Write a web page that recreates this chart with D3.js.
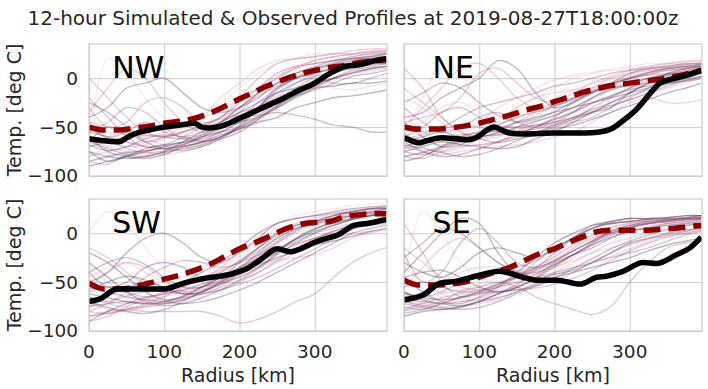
<!DOCTYPE html>
<html>
<head>
<meta charset="utf-8">
<script src="https://cdn.jsdelivr.net/npm/d3@7"></script>
<style>
  body { margin: 0; background: #fff; }
  text { font-family: "DejaVu Sans", sans-serif; fill: #262626; }
</style>
</head>
<body>
<div id="chart-area"></div>
<script>
// Panel names (order: NW, NE, SW, SE)
let panels = ["NW", "NE", "SW", "SE"];

// Tick labels
let xTicks = [0, 100, 200, 300];
let yTicks = [-100, -50, 0];

// Radius grid for ensemble members and for the ensemble mean
let memberX = [0, 25, 50, 75, 100, 125, 150, 175, 200, 225, 250, 275, 300, 325, 350, 375, 395];
let meanX = [0, 20, 40, 60, 80, 100, 120, 140, 160, 180, 200, 220, 240, 260, 280, 300, 320, 340, 360, 380, 395];

// Ensemble mean (dashed red)
let meanNW = [-50, -53, -53, -51, -49, -46, -44, -41, -36, -29, -21, -14, -7, -1, 4, 8, 11, 13, 16, 18, 19];
let meanNE = [-50, -52, -52, -51, -49, -46, -42, -38, -33, -29, -24, -19, -14, -10, -7, -5, -3, -1, 2, 5, 8];
let meanSW = [-51, -57, -57, -55, -51, -47, -43, -38, -32, -24, -16, -10, -3, 4, 9, 11, 12, 17, 19, 20, 20];
let meanSE = [-48, -53, -53, -52, -50, -45, -40, -35, -28, -21, -16, -9, -3, 2, 3, 3, 3, 4, 5, 7, 8];

// Observed profiles (black), [radius, temp]
let obsNW = [[0, -62], [20, -64], [40, -65], [50, -61], [60, -57], [80, -53], [100, -50], [120, -48], [140, -46],
  [150, -50], [160, -51], [180, -48], [200, -41], [220, -34], [240, -27], [260, -20], [280, -12], [300, -5],
  [320, 5], [340, 12], [360, 14], [380, 18], [395, 20]];
let obsNE = [[0, -61], [10, -64], [20, -66], [30, -64], [50, -61], [70, -62], [85, -63], [100, -59], [110, -53],
  [120, -50], [130, -53], [140, -56], [160, -57], [200, -56], [240, -56], [260, -55], [275, -52], [290, -44],
  [300, -38], [310, -31], [320, -22], [330, -13], [340, -5], [350, -2], [360, 0], [380, 4], [395, 8]];
let obsSW = [[0, -70], [15, -67], [37, -57], [59, -57], [100, -57], [126, -51], [148, -47], [192, -41], [210, -36],
  [228, -27], [250, -16], [268, -19], [281, -16], [301, -9], [317, -5], [330, -2], [352, 8], [370, 10], [395, 14]];
let obsSE = [[0, -68], [26, -63], [48, -51], [70, -49], [100, -43], [127, -39], [136, -40], [158, -45], [176, -48],
  [203, -48], [234, -52], [256, -45], [269, -44], [291, -39], [318, -30], [335, -31], [362, -22], [380, -15], [395, -4]];

// Simulated ensemble members (thin lines), values at memberX
let membersNW = [
  [-70, 20, 5, -20, -40, -45, -35, -25, -10, 5, 15, 20, 25, 25, 28, 30, 30],
  [-85, -88, -78, -75, -70, -68, -60, -50, -40, -25, -10, 0, 5, 10, 15, 18, 20],
  [-40, -30, -10, -5, 0, -15, -30, -35, -30, -20, -5, 5, 10, 15, 20, 22, 25],
  [-60, -70, -75, -78, -75, -70, -65, -55, -45, -35, -25, -15, -5, 0, 5, 8, 10],
  [-55, -60, -65, -70, -72, -68, -60, -52, -40, -38, -35, -38, -42, -48, -50, -55, -55],
  [-75, -80, -82, -80, -76, -72, -68, -60, -50, -30, -10, 0, 5, 10, 12, 15, 15],
  [-30, -50, -45, -25, -20, -30, -45, -40, -20, 0, 15, 20, 22, 25, 25, 27, 28],
  [-65, -50, -55, -65, -60, -55, -50, -45, -35, -25, -15, -10, -5, 0, 5, 10, 12],
  [-80, -75, -70, -65, -60, -50, -40, -20, -5, 10, 18, 20, 22, 25, 28, 30, 30],
  [-50, -60, -55, -45, -55, -60, -55, -45, -35, -30, -20, -10, 0, -5, -5, 0, 5],
  [-90, -85, -80, -75, -70, -65, -60, -55, -50, -40, -28, -15, -10, -8, -5, -5, -3],
  [0, -20, -40, -55, -60, -55, -48, -40, -30, -15, 0, 10, 15, 18, 20, 22, 22],
  [-70, -65, -60, -58, -60, -62, -58, -50, -45, -40, -30, -20, -10, 0, 8, 12, 15],
  [-45, -55, -65, -75, -78, -75, -70, -60, -50, -40, -25, -15, -5, 5, 10, 15, 18],
  [-20, -40, -60, -70, -68, -60, -50, -40, -25, -10, 5, 12, 15, 18, 20, 20, 22],
  [-60, -75, -80, -82, -78, -70, -65, -58, -52, -45, -40, -30, -25, -20, -18, -15, -12],
  [-35, -10, 10, 0, -25, -45, -55, -50, -35, -15, 0, 10, 18, 22, 25, 28, 28],
  [-65, -72, -78, -80, -75, -65, -55, -45, -30, -15, -5, 5, 12, 18, 22, 25, 26],
  [-80, -70, -60, -62, -68, -72, -70, -62, -55, -45, -32, -20, -10, -2, 5, 10, 12],
  [-55, -45, -30, -35, -50, -62, -65, -60, -50, -38, -25, -12, -2, 8, 15, 20, 22],
  [-75, -85, -80, -72, -68, -66, -62, -55, -45, -30, -15, -5, 2, 6, 10, 14, 16],
  [-60, -65, -70, -68, -62, -55, -48, -42, -38, -30, -18, -5, 5, 12, 18, 22, 24],
  [-25, -35, -50, -65, -72, -74, -70, -62, -48, -30, -12, 0, 8, 14, 18, 20, 20],
  [-70, -60, -50, -48, -52, -58, -62, -58, -48, -35, -22, -12, -8, -10, -12, -8, -5],
  [-50, -62, -72, -76, -74, -68, -58, -45, -30, -18, -8, 2, 10, 16, 20, 23, 25],
  [-85, -80, -76, -74, -72, -70, -66, -60, -52, -42, -30, -18, -8, 0, 6, 10, 12],
  [-45, -50, -58, -60, -55, -48, -40, -32, -22, -10, 2, 12, 18, 22, 24, 26, 28],
  [-68, -74, -70, -62, -58, -60, -64, -62, -55, -42, -28, -18, -12, -5, 2, 5, 8]
];
let membersNE = [
  [-60, -20, 15, 5, -30, -40, -30, -20, -10, 0, 5, 10, 12, 15, 15, 18, 18],
  [-80, -82, -75, -70, -68, -65, -60, -55, -50, -45, -40, -30, -20, -10, 0, 5, 8],
  [-40, -35, -20, -10, 0, 18, 10, -15, -30, -25, -15, -5, 5, 10, 12, 15, 15],
  [-70, -75, -78, -75, -72, -70, -68, -65, -60, -55, -45, -35, -25, -20, -25, -25, -22],
  [-50, -55, -50, -40, -30, -25, -20, -15, -8, -5, 0, 5, 8, 10, 12, 14, 15],
  [-65, -60, -55, -60, -58, -52, -45, -40, -35, -30, -25, -20, -15, -10, -5, 0, 5],
  [10, -10, -40, -55, -60, -55, -45, -35, -30, -20, -10, 0, 5, 8, 10, 12, 12],
  [-85, -80, -70, -60, -55, -50, -50, -48, -45, -40, -35, -30, -15, -5, 0, 5, 10],
  [-55, -70, -75, -72, -60, -45, -30, -20, -15, -12, -10, -5, 0, 5, 8, 10, 12],
  [-30, -45, -55, -50, -40, -35, -45, -50, -45, -35, -20, -10, -5, 0, 3, 5, 8],
  [-75, -70, -65, -68, -70, -72, -70, -62, -55, -45, -35, -25, -15, -5, 5, 10, 12],
  [-45, -40, -35, -20, 5, 10, -5, -20, -25, -20, -15, -10, -8, -5, 0, 5, 8],
  [-65, -75, -80, -78, -72, -65, -58, -50, -42, -35, -25, -18, -12, -8, -5, -3, 0],
  [-20, -30, -45, -60, -68, -65, -55, -45, -38, -30, -22, -12, -2, 5, 10, 13, 15],
  [-60, -50, -35, -30, -40, -50, -55, -50, -40, -25, -15, -8, 0, 3, 5, 8, 10],
  [-70, -65, -62, -60, -62, -66, -62, -58, -52, -48, -42, -35, -28, -22, -15, -10, -5],
  [-50, -30, -10, 10, 15, 0, -20, -30, -25, -15, -5, 2, 8, 12, 15, 17, 18],
  [-75, -78, -72, -65, -60, -58, -55, -52, -48, -42, -35, -28, -22, -15, -8, -2, 2],
  [-35, -55, -65, -60, -45, -30, -20, -10, -2, 3, 6, 8, 10, 12, 14, 15, 16],
  [-62, -58, -52, -48, -50, -55, -58, -56, -50, -42, -30, -20, -10, -2, 4, 8, 10],
  [-80, -76, -70, -64, -60, -56, -50, -44, -38, -30, -20, -12, -6, 0, 4, 6, 8],
  [-10, -25, -40, -55, -62, -60, -50, -38, -28, -20, -12, -5, 2, 6, 10, 12, 14],
  [-68, -72, -76, -80, -78, -72, -64, -56, -48, -40, -32, -25, -18, -12, -6, -2, 2],
  [-55, -45, -30, -25, -35, -45, -40, -30, -20, -12, -6, 0, 4, 8, 12, 14, 16],
  [-72, -68, -62, -58, -56, -54, -52, -48, -42, -34, -26, -18, -10, -4, 2, 6, 10],
  [-45, -60, -70, -68, -58, -48, -40, -34, -28, -22, -14, -6, 0, 6, 10, 12, 14],
  [-58, -64, -68, -66, -62, -58, -54, -50, -46, -40, -34, -28, -22, -16, -10, -4, 0],
  [-25, -15, -5, -10, -25, -38, -45, -42, -34, -24, -14, -6, 0, 4, 8, 10, 12]
];
let membersSW = [
  [0, 22, 10, -15, -35, -45, -40, -30, -15, 0, 10, 18, 22, 25, 28, 30, 30],
  [-85, -80, -78, -80, -80, -80, -80, -85, -92, -88, -80, -70, -62, -45, -30, -20, -15],
  [-50, -40, -20, -5, 0, -10, -25, -30, -20, -5, 10, 15, 18, 22, 25, 27, 28],
  [-70, -78, -80, -75, -72, -68, -62, -55, -48, -40, -30, -20, -10, -5, 0, 2, 3],
  [-60, -55, -60, -65, -60, -50, -40, -30, -15, 0, 10, 15, 18, 20, 22, 25, 25],
  [-30, -45, -60, -70, -72, -68, -60, -52, -45, -35, -20, -5, 5, 10, 15, 18, 20],
  [-90, -85, -75, -68, -62, -58, -55, -50, -40, -30, -18, -8, 0, 5, 10, 12, 15],
  [-40, -55, -50, -35, -30, -35, -45, -40, -28, -15, -2, 8, 12, 15, 18, 20, 22],
  [-65, -70, -72, -70, -65, -60, -55, -48, -40, -35, -28, -25, -22, -15, -5, 0, 5],
  [-75, -65, -55, -50, -55, -62, -60, -50, -35, -20, -5, 5, 10, 15, 18, 20, 22],
  [-20, -30, -45, -60, -68, -65, -55, -45, -30, -15, 0, 8, 12, 18, 22, 25, 25],
  [-80, -82, -78, -72, -65, -55, -45, -38, -30, -22, -15, -10, -5, 0, 5, 8, 10],
  [-55, -60, -65, -68, -70, -72, -70, -65, -58, -50, -40, -30, -20, -10, 0, 5, 8],
  [-45, -35, -30, -40, -50, -55, -48, -35, -20, -10, 0, 10, 15, 18, 20, 22, 24],
  [-65, -70, -60, -45, -35, -28, -30, -35, -30, -18, -5, 5, 10, 12, 15, 18, 20],
  [-90, -80, -72, -66, -62, -58, -52, -45, -38, -32, -25, -18, -12, -8, -3, 2, 5],
  [-55, -40, -30, -35, -48, -60, -62, -55, -40, -25, -10, 2, 12, 18, 22, 25, 26],
  [-75, -72, -70, -72, -74, -72, -66, -58, -48, -36, -22, -10, 0, 8, 14, 18, 20],
  [-35, -50, -62, -66, -62, -55, -46, -36, -24, -12, 0, 10, 16, 20, 24, 26, 28],
  [-85, -82, -78, -74, -70, -66, -62, -58, -52, -45, -36, -26, -16, -6, 4, 10, 14],
  [-62, -66, -70, -72, -70, -64, -55, -45, -35, -26, -16, -6, 2, 8, 14, 18, 20],
  [-15, -25, -40, -52, -58, -60, -58, -50, -38, -24, -10, 2, 10, 16, 20, 22, 24],
  [-70, -76, -80, -82, -78, -70, -60, -50, -40, -30, -20, -12, -5, 2, 8, 12, 14],
  [-48, -58, -66, -68, -64, -58, -52, -44, -34, -22, -10, 0, 8, 14, 18, 22, 24],
  [-80, -72, -64, -60, -60, -62, -62, -58, -50, -40, -28, -16, -6, 2, 8, 12, 16],
  [-58, -50, -44, -48, -56, -62, -60, -52, -42, -30, -18, -6, 4, 12, 18, 22, 25],
  [-66, -72, -76, -76, -72, -66, -58, -50, -42, -34, -26, -18, -12, -4, 4, 10, 14],
  [-40, -30, -25, -32, -45, -55, -55, -48, -36, -22, -8, 4, 12, 18, 22, 25, 27]
];
let membersSE = [
  [-50, 22, 0, -30, -45, -50, -40, -25, -10, 0, 5, 10, 12, 14, 15, 15, 15],
  [-80, -75, -70, -60, -55, -50, -55, -65, -72, -78, -83, -75, -50, -30, -15, -10, -8],
  [-40, -20, 0, 15, 10, -20, -40, -35, -20, -5, 8, 12, 15, 15, 16, 18, 18],
  [-70, -72, -75, -75, -72, -68, -60, -50, -40, -30, -20, -10, -5, 0, 5, 8, 10],
  [-60, -65, -60, -50, -45, -40, -35, -28, -15, -5, 5, 10, 12, 14, 15, 15, 16],
  [-85, -80, -78, -75, -70, -62, -55, -48, -42, -38, -30, -20, -10, -5, 0, 3, 5],
  [10, -20, -50, -65, -62, -55, -45, -30, -15, -5, 5, 10, 12, 12, 14, 16, 16],
  [-55, -50, -55, -60, -58, -52, -45, -38, -30, -22, -15, -5, 2, 5, 8, 10, 12],
  [-65, -60, -50, -40, -35, -35, -40, -42, -35, -25, -10, 0, 5, 8, 10, 12, 14],
  [-75, -78, -72, -65, -60, -55, -50, -45, -40, -35, -30, -25, -20, -15, -8, -2, 2],
  [-30, -40, -45, -35, -20, -15, -20, -25, -15, -5, 5, 12, 15, 15, 16, 18, 18],
  [-68, -70, -72, -70, -68, -62, -55, -45, -30, -15, -5, 0, 3, 5, 8, 10, 12],
  [-45, -60, -70, -72, -65, -55, -40, -25, -10, 0, 8, 10, 12, 14, 15, 16, 18],
  [-80, -70, -62, -58, -55, -50, -45, -40, -35, -28, -20, -15, -10, -5, -3, 0, 3],
  [-20, -50, -40, -10, 5, -10, -30, -35, -28, -18, -8, 2, 8, 10, 12, 14, 15],
  [-60, -68, -72, -74, -70, -66, -60, -52, -45, -40, -35, -30, -25, -18, -12, -8, -5],
  [-55, -35, -15, -5, -15, -30, -38, -34, -24, -12, -2, 6, 10, 12, 14, 15, 16],
  [-72, -76, -78, -76, -70, -62, -52, -42, -32, -22, -12, -4, 2, 6, 10, 12, 14],
  [-35, -50, -62, -68, -66, -58, -48, -36, -24, -12, -2, 6, 10, 12, 14, 16, 17],
  [-82, -78, -72, -66, -62, -60, -58, -54, -48, -40, -30, -20, -12, -6, -2, 2, 6],
  [-62, -66, -68, -66, -60, -52, -44, -36, -28, -18, -8, 2, 8, 12, 14, 16, 18],
  [-15, -30, -45, -55, -58, -54, -46, -38, -28, -18, -8, 0, 6, 10, 12, 14, 15],
  [-70, -74, -76, -78, -76, -70, -62, -54, -46, -36, -26, -16, -8, -2, 4, 8, 10],
  [-50, -56, -60, -58, -52, -46, -40, -34, -26, -16, -6, 4, 10, 13, 15, 16, 17],
  [-78, -72, -66, -62, -60, -60, -58, -56, -52, -46, -38, -28, -18, -10, -4, 0, 4],
  [-45, -40, -38, -45, -55, -60, -56, -46, -34, -22, -10, 0, 6, 10, 13, 15, 16],
  [-66, -70, -72, -70, -66, -60, -54, -48, -42, -36, -30, -24, -16, -8, -2, 2, 6],
  [-25, -10, 5, 0, -15, -30, -40, -40, -32, -22, -12, -2, 6, 10, 12, 14, 15]
];

let means = [meanNW, meanNE, meanSW, meanSE];
let obs = [obsNW, obsNE, obsSW, obsSE];
let members = [membersNW, membersNE, membersSW, membersSE];

drawChart();

function drawChart(){
	let width = 708, height = 389;
	let panelW = 298, panelH = 132;
	let lefts = [89, 404], tops = [44, 199];

	let svg = d3.select("#chart-area").append("svg")
		.attr("width", width)
		.attr("height", height);

	// Title
	svg.append("text")
		.attr("x", 353)
		.attr("y", 25)
		.attr("text-anchor", "middle")
		.style("font-size", "20px")
		.text("12-hour Simulated & Observed Profiles at 2019-08-27T18:00:00z");

	// Shared scales
	let x = d3.scaleLinear().domain([0, 396]).range([0, panelW]);
	let y = d3.scaleLinear().domain([-100, 35]).range([panelH, 0]);

	let memberColor = d3.scaleSequential(d3.interpolateRgbBasis(["#f2b3c3", "#c25a7e", "#5a3060", "#241633"]))
		.domain([0, 27]);

	panels.forEach((name, i) => {
		let col = i % 2, row = Math.floor(i / 2);
		let g = svg.append("g")
			.attr("transform", "translate(" + lefts[col] + "," + tops[row] + ")");

		// Grid
		let xGrid = d3.axisBottom(x).tickValues(xTicks).tickSize(-panelH).tickFormat("");
		let yGrid = d3.axisLeft(y).tickValues(yTicks).tickSize(-panelW).tickFormat("");
		g.append("g").attr("transform", "translate(0," + panelH + ")").call(xGrid)
			.call(s => s.select(".domain").remove())
			.selectAll("line").attr("stroke", "#cccccc").attr("stroke-width", 1);
		g.append("g").call(yGrid)
			.call(s => s.select(".domain").remove())
			.selectAll("line").attr("stroke", "#cccccc").attr("stroke-width", 1);

		// Clip
		g.append("clipPath").attr("id", "clip" + i)
			.append("rect").attr("width", panelW).attr("height", panelH);
		let plot = g.append("g").attr("clip-path", "url(#clip" + i + ")");

		// Ensemble members
		let memberLine = d3.line()
			.x((d, k) => x(memberX[k]))
			.y(d => y(d))
			.curve(d3.curveCatmullRom.alpha(0.5));
		plot.selectAll(".member")
			.data(members[i])
			.enter()
			.append("path")
			.attr("class", "member")
			.attr("d", memberLine)
			.attr("fill", "none")
			.attr("stroke", (d, k) => memberColor((k * 11) % 28))
			.attr("stroke-width", 1.4)
			.attr("opacity", 0.32);

		// Ensemble mean
		let meanLine = d3.line()
			.x((d, k) => x(meanX[k]))
			.y(d => y(d))
			.curve(d3.curveMonotoneX);
		plot.append("path")
			.datum(means[i])
			.attr("d", meanLine)
			.attr("fill", "none")
			.attr("stroke", "#8b0000")
			.attr("stroke-width", 5.5)
			.attr("stroke-dasharray", "17,8");

		// Observed
		let obsLine = d3.line()
			.x(d => x(d[0]))
			.y(d => y(d[1]))
			.curve(d3.curveMonotoneX);
		plot.append("path")
			.datum(obs[i])
			.attr("d", obsLine)
			.attr("fill", "none")
			.attr("stroke", "#000")
			.attr("stroke-width", 5.5)
			.attr("stroke-linejoin", "round");

		// Frame
		g.append("rect")
			.attr("width", panelW)
			.attr("height", panelH)
			.attr("fill", "none")
			.attr("stroke", "#cccccc")
			.attr("stroke-width", 1.2);

		// Panel label
		g.append("text")
			.attr("x", x(col === 0 ? 31 : 38))
			.attr("y", y(0))
			.style("font-size", "30px")
			.style("fill", "#000")
			.text(name);

		// Y tick labels on left column
		if (col === 0) {
			g.selectAll(".ytick")
				.data(yTicks)
				.enter()
				.append("text")
				.attr("x", -11)
				.attr("y", d => y(d))
				.attr("dy", "0.35em")
				.attr("text-anchor", "end")
				.style("font-size", "18.5px")
				.text(d => d3.format("")(d).replace("-", "\u2212"));

			g.append("text")
				.attr("transform", "translate(-68," + (panelH / 2) + ") rotate(-90)")
				.attr("text-anchor", "middle")
				.style("font-size", "19px")
				.text("Temp. [deg C]");
		}

		// X tick labels on bottom row
		if (row === 1) {
			g.selectAll(".xtick")
				.data(xTicks)
				.enter()
				.append("text")
				.attr("x", d => x(d))
				.attr("y", panelH + 27)
				.attr("text-anchor", "middle")
				.style("font-size", "18.5px")
				.text(d => d);

			g.append("text")
				.attr("x", panelW / 2)
				.attr("y", panelH + 51)
				.attr("text-anchor", "middle")
				.style("font-size", "19px")
				.text("Radius [km]");
		}
	});
}
</script>
</body>
</html>
